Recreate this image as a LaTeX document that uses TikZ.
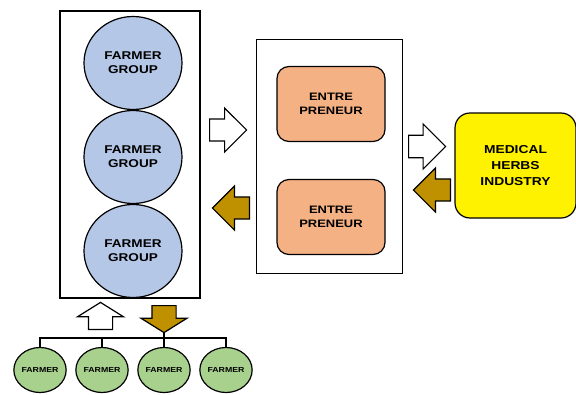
\documentclass[tikz,border=0pt]{standalone}
\usepackage{fontspec}
\setmainfont{Liberation Sans Bold}[FakeStretch=1.2]
\usetikzlibrary{shapes.geometric,shapes.arrows,positioning}
\definecolor{grpblue}{HTML}{B4C7E7}
\definecolor{entorange}{HTML}{F4B183}
\definecolor{farmgreen}{HTML}{A9D18E}
\definecolor{arrbrown}{HTML}{BF9000}
\tikzset{
  grp/.style={ellipse, draw, fill=grpblue, minimum width=98pt, minimum height=93pt,
    align=center, font=\fontsize{11.3}{14}\selectfont},
  ent/.style={rectangle, rounded corners=12pt, draw, fill=entorange, minimum width=108pt,
    minimum height=75pt, align=center, font=\fontsize{10.8}{14}\selectfont},
  farmer/.style={ellipse, draw, fill=farmgreen, minimum width=50pt, minimum height=45pt,
    inner sep=0pt, font=\fontsize{7.3}{8}\selectfont},
  frame/.style={rectangle, draw, inner sep=0pt},
  blk/.style={single arrow, draw, anchor=tail, inner xsep=0pt, inner ysep=9pt,
    single arrow head extend=9.5pt, minimum height=37pt, minimum width=44pt},
  blkv/.style={single arrow, draw, anchor=tail, inner xsep=11.5pt, inner ysep=0pt,
    single arrow head extend=11pt, minimum width=45pt, minimum height=27pt,
    single arrow tip angle=116},
  white/.style={fill=white},
  brown/.style={fill=arrbrown}
}
\begin{document}
\begin{tikzpicture}[x=1pt,y=-1pt,line width=1.2pt,node distance=94pt,on grid]
  \useasboundingbox (0,0) rectangle (576,394);
  \node[frame, minimum width=140pt, minimum height=287pt] (grpbox) at (130,154.5) {};
  \node[frame, minimum width=146pt, minimum height=234pt] (entbox) at (329.7,156.3) {};

  \node[grp] (grp1) at (133,63) {FARMER\\GROUP};
  \node[grp] (grp2) [below=of grp1] {FARMER\\GROUP};
  \node[grp] (grp3) [below=of grp2] {FARMER\\GROUP};

  \node[ent] (ent1) at (331,104) {ENTRE\\PRENEUR};
  \node[ent] (ent2) [below=113pt of ent1] {ENTRE\\PRENEUR};

  \node[rectangle, rounded corners=15pt, draw, fill=yellow, minimum width=121pt,
    minimum height=105pt, align=center, font=\fontsize{11.5}{16}\selectfont]
    (industry) at (515.5,165.5) {MEDICAL\\HERBS\\INDUSTRY};

  \node[blk, white] (toent) at (209,130) {};
  \node[blk, brown, shape border rotate=180] (togrp) at (250,208) {};
  \node[blk, white, minimum width=45pt] (toind) at (408,146.5) {};
  \node[blk, brown, shape border rotate=180] (frind) at (451,190) {};
  \node[blkv, white, shape border rotate=90] (uparr) at (100.5,330) {};
  \node[blkv, brown, shape border rotate=270] (dnarr) at (164,305) {};

  \node[farmer] (f1) at (40,370) {FARMER};
  \node[farmer] (f2) [right=62pt of f1] {FARMER};
  \node[farmer] (f3) [right=62pt of f2] {FARMER};
  \node[farmer] (f4) [right=62pt of f3] {FARMER};

  \coordinate (bus) at (40,338);
  \draw (f1.north) -- (bus) -| (f4.north);
  \draw (f2.north) -- (f2.north |- bus);
  \draw (dnarr.tip) -- (f3.north);
\end{tikzpicture}
\end{document}
